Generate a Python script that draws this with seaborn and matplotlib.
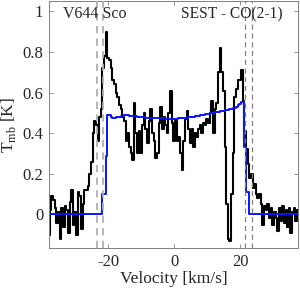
import numpy as np
import pandas as pd
import matplotlib
matplotlib.use("Agg")
import matplotlib.pyplot as plt
import seaborn as sns

# channel centres, 0.5 km/s spacing
velocity = np.arange(-38.0, 37.51, 0.5)

# observed CO(2-1) spectrum, T_mb [K]
t_obs = [
    -0.10, 0.02, 0.09, 0.07, 0.03, -0.04, 0.01, -0.12, 0.03, -0.06,
    0.04, 0.02, -0.09, 0.06, 0.12, -0.05, 0.01, -0.10, 0.11, 0.09,
    -0.07, 0.05, 0.12, 0.12, 0.14, 0.20, 0.26, 0.40, 0.46, 0.44,
    0.36, 0.48, 0.52, 0.72, 0.78, 0.90, 0.77, 0.76, 0.72, 0.66,
    0.64, 0.60, 0.58, 0.54, 0.52, 0.48, 0.46, 0.36, 0.40, 0.33,
    0.30, 0.27, 0.55, 0.40, 0.30, 0.41, 0.30, 0.44, 0.50, 0.42,
    0.35, 0.46, 0.52, 0.40, 0.36, 0.28, 0.30, 0.45, 0.53, 0.42,
    0.48, 0.44, 0.40, 0.50, 0.61, 0.45, 0.36, 0.46, 0.36, 0.38,
    0.30, 0.22, 0.36, 0.47, 0.51, 0.42, 0.35, 0.42, 0.33, 0.40,
    0.38, 0.42, 0.44, 0.40, 0.45, 0.44, 0.47, 0.45, 0.50, 0.56,
    0.40, 0.52, 0.55, 0.70, 0.82, 0.70, 0.61, 0.33, 0.05, -0.12,
    -0.13, 0.10, 0.30, 0.58, 0.62, 0.66, 0.66, 0.71, 0.56, 0.41,
    0.32, 0.25, 0.18, 0.20, 0.13, 0.15, 0.10, 0.08, 0.10, 0.05,
    -0.05, 0.04, 0.02, 0.05, -0.02, 0.03, -0.05, 0.01, -0.02, -0.08,
    0.03, -0.03, 0.04, -0.04, 0.02, -0.06, 0.03, -0.09, 0.01, 0.03,
    -0.03, 0.02,
]

# model profile
t_model = [
    0, 0, 0, 0, 0, 0, 0, 0, 0, 0,
    0, 0, 0, 0, 0, 0, 0, 0, 0, 0,
    0, 0, 0, 0, 0, 0, 0, 0, 0, 0,
    0, 0, 0, 0.10, 0.10, 0.29, 0.49, 0.49, 0.48, 0.476,
    0.476, 0.478, 0.480, 0.482, 0.484, 0.486, 0.488, 0.488, 0.488, 0.487,
    0.486, 0.485, 0.484, 0.483, 0.482, 0.481, 0.480, 0.479, 0.478, 0.477,
    0.477, 0.476, 0.476, 0.475, 0.475, 0.474, 0.474, 0.474, 0.473, 0.473,
    0.473, 0.472, 0.472, 0.472, 0.472, 0.472, 0.472, 0.472, 0.472, 0.473,
    0.473, 0.474, 0.475, 0.476, 0.477, 0.478, 0.480, 0.481, 0.482, 0.484,
    0.485, 0.487, 0.488, 0.490, 0.491, 0.493, 0.494, 0.496, 0.497, 0.499,
    0.500, 0.502, 0.503, 0.505, 0.507, 0.508, 0.510, 0.512, 0.513, 0.515,
    0.517, 0.519, 0.522, 0.526, 0.530, 0.538, 0.546, 0.552, 0.552, 0.33,
    0.11, 0.11, 0, 0, 0, 0, 0, 0, 0, 0,
    0, 0, 0, 0, 0, 0, 0, 0, 0, 0,
    0, 0, 0, 0, 0, 0, 0, 0, 0, 0,
    0, 0,
]

inner_marks = [-21.5, 21.5]
outer_marks = [-23.5, 23.5]

x_ticks = [-20, 0, 20]
y_ticks = [0, 0.2, 0.4, 0.6, 0.8, 1]
y_ticklabels = ["0", "0.2", "0.4", "0.6", "0.8", "1"]

df = pd.DataFrame({"v": velocity, "obs": t_obs, "model": t_model})

sns.set_style("ticks")
plt.rcParams["font.family"] = ["Liberation Serif", "DejaVu Serif"]
plt.rcParams["mathtext.fontset"] = "custom"
plt.rcParams["mathtext.rm"] = "Liberation Serif"
plt.rcParams["axes.unicode_minus"] = False

fig = plt.figure(figsize=(3.0, 2.9), dpi=100)
ax = fig.add_axes([0.163, 0.145, 0.83, 0.851])

sns.lineplot(data=df, x="v", y="obs", ax=ax, color="black", lw=1.5,
             drawstyle="steps-mid", estimator=None)
sns.lineplot(data=df, x="v", y="model", ax=ax, color="#0a14ff", lw=1.4,
             drawstyle="steps-mid", estimator=None)

for v in inner_marks + outer_marks:
    col = "#b0b0b0" if v < 0 else "#808080"
    w = 1.3 if v < 0 else 0.9
    ax.axvline(v, color=col, lw=w, ls=(0, (4, 3)), zorder=3)

ax.set_xlim(-38, 37.5)
ax.set_ylim(-0.165, 1.05)
ax.set_xticks(x_ticks)
ax.set_xticklabels([str(t) for t in x_ticks])
ax.set_yticks(y_ticks)
ax.set_yticklabels(y_ticklabels)
ax.tick_params(direction="in", length=3, width=0.6, colors="#808080",
               labelcolor="#262626", labelsize=12, top=True, right=True, pad=4)
for s in ax.spines.values():
    s.set_color("#808080")
    s.set_linewidth(0.7)

ax.set_xlabel("Velocity [km/s]", fontsize=12.5, color="#262626", labelpad=1)
ax.set_ylabel(r"T$_{\rm mb}$ [K]", fontsize=12.5, color="#262626", labelpad=3)

ax.text(0.056, 0.948, "V644 Sco", transform=ax.transAxes, fontsize=11.5,
        ha="left", va="center", color="#262626")
ax.text(0.94, 0.948, "SEST - CO(2-1)", transform=ax.transAxes, fontsize=11.2,
        ha="right", va="center", color="#262626")

fig.savefig("out.png", dpi=100)
